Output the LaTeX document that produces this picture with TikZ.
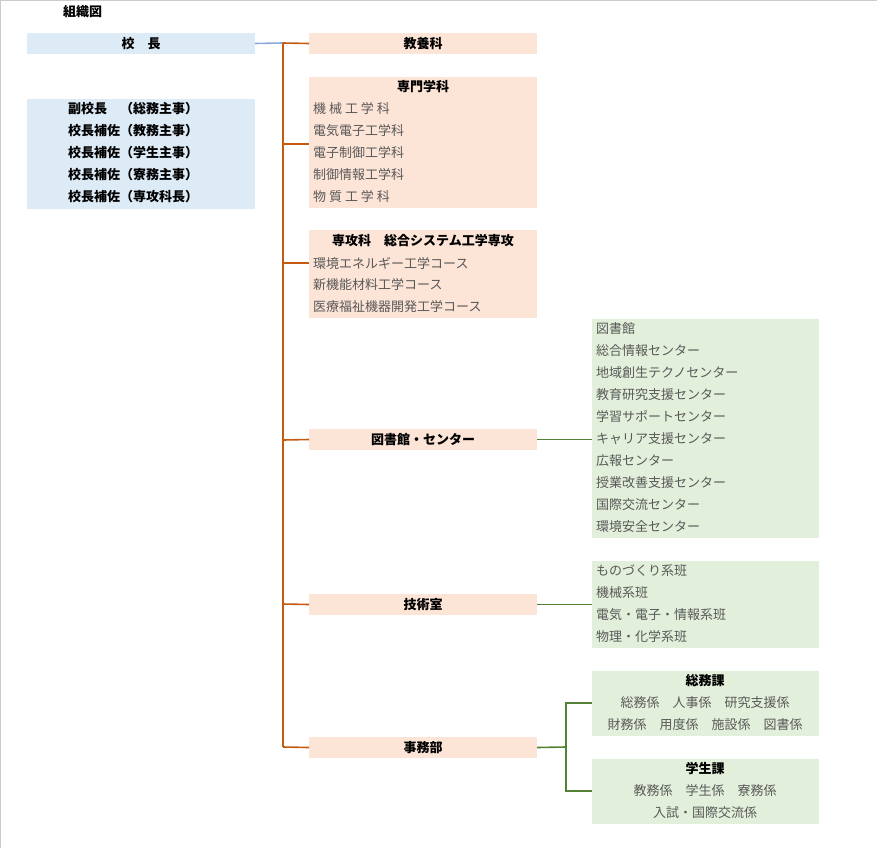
\documentclass[tikz,border=0pt]{standalone}
\usepackage{fontspec}
\setmainfont{Noto Sans CJK JP}
\definecolor{bfill}{HTML}{DDEBF7}
\definecolor{ofill}{HTML}{FCE4D6}
\definecolor{gfill}{HTML}{E2EFDA}
\definecolor{oline}{HTML}{C55A11}
\definecolor{gline}{HTML}{548235}
\definecolor{bline}{HTML}{8EA9DB}
\definecolor{txtg}{HTML}{595959}
\begin{document}
\begin{tikzpicture}[x=1pt,y=-1pt,
  box/.style={anchor=north west,inner sep=0,outer sep=0},
  hd/.style={font=\fontsize{13}{14}\selectfont\bfseries,text=black,inner sep=0},
  bd/.style={font=\fontsize{13}{14}\selectfont,text=txtg,inner sep=0},
  ol/.style={draw=oline,line width=1.6pt},
  gl/.style={draw=gline,line width=1.6pt},
  bl/.style={draw=bline,line width=1.6pt}]
\useasboundingbox (0,0) rectangle (877,848);
\draw[gray!40,line width=1pt] (0.5,848) -- (0.5,0.5) -- (877,0.5);
\node[hd,anchor=west] (title) at (63,12) {組織図};
% boxes
\newcommand{\bx}[6]{\node[box,fill=#2,minimum width=#5,minimum height=#6] (#1) at (#3,#4) {};}
\bx{kocho}{bfill}{27}{33}{228}{21}
\bx{fuku}{bfill}{27}{99}{228}{110}
\bx{kyoyo}{ofill}{309}{33}{228}{21}
\bx{senmon}{ofill}{309}{77}{228}{131}
\bx{senko}{ofill}{309}{230}{228}{88}
\bx{tosho}{ofill}{309}{429}{228}{21}
\bx{gijutsu}{ofill}{309}{594}{228}{21}
\bx{jimu}{ofill}{309}{737}{228}{21}
\bx{center}{gfill}{592}{319}{227}{219}
\bx{han}{gfill}{592}{561}{227}{87}
\bx{somu}{gfill}{592}{671}{227}{65}
\bx{gakusei}{gfill}{592}{759}{227}{65}
% texts
\node[hd] at (kocho.center) {校\quad 長};
\foreach \t [count=\i from 0] in {副校長\quad （総務主事）,校長補佐（教務主事）,校長補佐（学生主事）,校長補佐（寮務主事）,校長補佐（専攻科長）}
  \node[hd,anchor=west] at (68,109+22*\i) {\t};
\node[hd] at (kyoyo.center) {教養科};
\node[hd] at (423,87) {専門学科};
\foreach \t [count=\i from 1] in {機 械 工 学 科,電気電子工学科,電子制御工学科,制御情報工学科,物 質 工 学 科}
  \node[bd,anchor=west] at (313,87+22*\i) {\t};
\node[hd] at (423,241) {専攻科\quad 総合システム工学専攻};
\foreach \t [count=\i from 1] in {環境エネルギー工学コース,新機能材料工学コース,医療福祉機器開発工学コース}
  \node[bd,anchor=west] at (313,241+22*\i) {\t};
\node[hd] at (tosho.center) {図書館・センター};
\node[hd] at (gijutsu.center) {技術室};
\node[hd] at (jimu.center) {事務部};
\foreach \t [count=\i from 0] in {図書館,総合情報センター,地域創生テクノセンター,教育研究支援センター,学習サポートセンター,キャリア支援センター,広報センター,授業改善支援センター,国際交流センター,環境安全センター}
  \node[bd,anchor=west] at (596,329+22*\i) {\t};
\foreach \t [count=\i from 0] in {ものづくり系班,機械系班,電気・電子・情報系班,物理・化学系班}
  \node[bd,anchor=west] at (596,571+22*\i) {\t};
\node[hd] at (705,681) {総務課};
\node[bd] at (705,703) {総務係\quad 人事係\quad 研究支援係};
\node[bd] at (705,725) {財務係\quad 用度係\quad 施設係\quad 図書係};
\node[hd] at (705,769) {学生課};
\node[bd] at (705,791) {教務係\quad 学生係\quad 寮務係};
\node[bd] at (705,813) {入試・国際交流係};
% connectors
\coordinate (j0) at (283,43);
\coordinate (jb) at (283,747);
\draw[bl] (kocho.east) -- (j0);
\draw[ol] (j0) -- (jb);
\draw[ol] (j0) -- (kyoyo.west);
\draw[ol] (283,144) -- (senmon.west |- 0,144);
\draw[ol] (283,263) -- (senko.west |- 0,263);
\draw[ol] (283,440) -- (tosho.west);
\draw[ol] (283,604) -- (gijutsu.west);
\draw[ol] (jb) -- (jimu.west);
\draw[gl] (tosho.east) -- (center.west |- tosho.east);
\draw[gl] (gijutsu.east) -- (han.west |- gijutsu.east);
\coordinate (g1) at (566,747);
\draw[gl] (jimu.east) -- (g1);
\draw[gl] (somu.west |- 0,703) -- (566,703) -- (566,791) -- (gakusei.west |- 0,791);
\end{tikzpicture}
\end{document}
